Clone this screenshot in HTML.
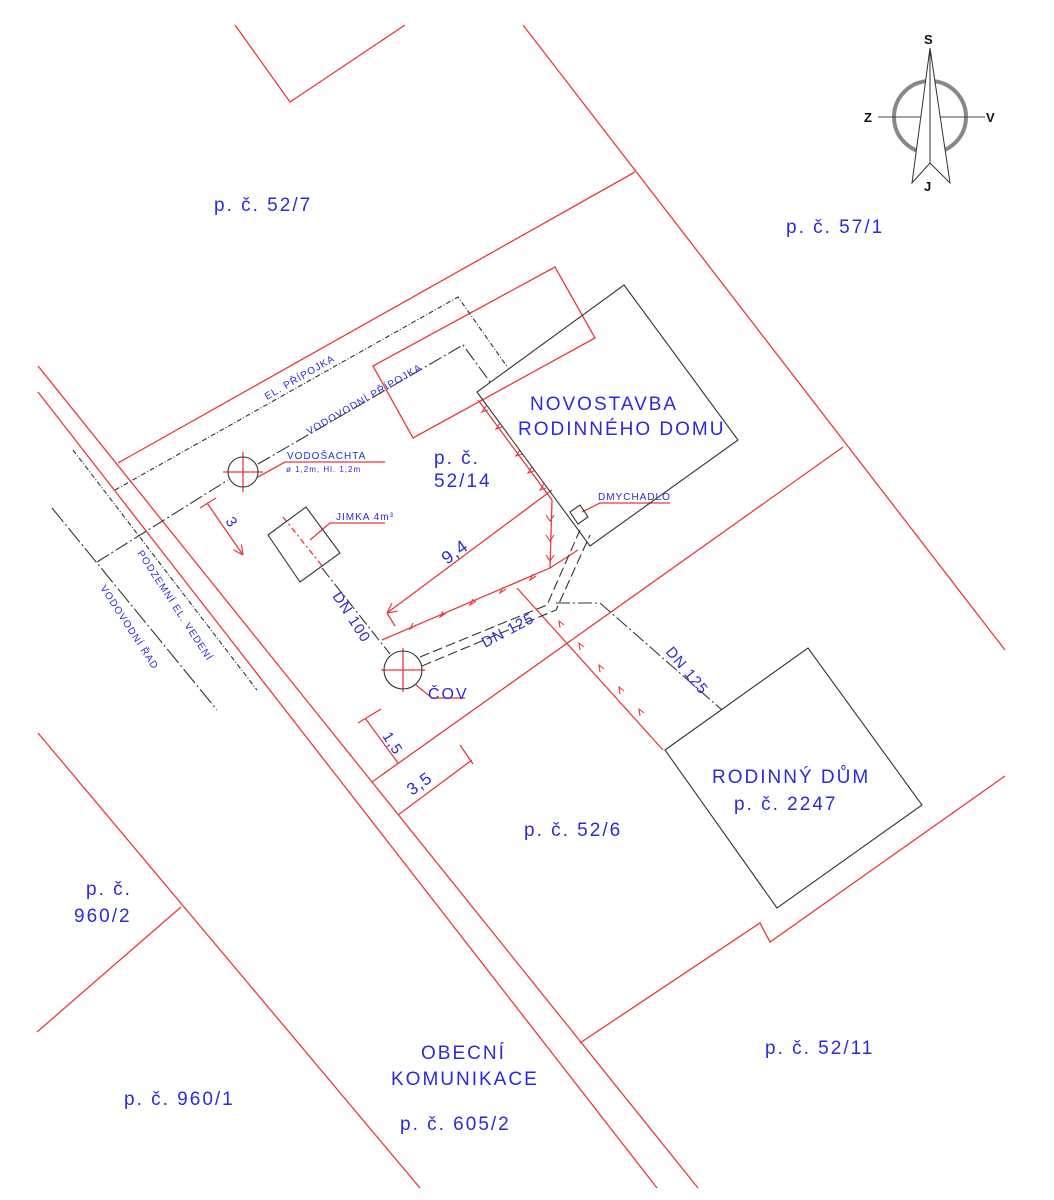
<!DOCTYPE html>
<html><head><meta charset="utf-8"><style>
html,body{margin:0;padding:0;background:#fff;}
svg{display:block;}
text{font-family:"Liberation Sans",sans-serif;fill:#2a2ae0;}
</style></head><body>
<svg width="1054" height="1200" viewBox="0 0 1054 1200" xmlns="http://www.w3.org/2000/svg">
<defs>
<marker id="ar" viewBox="0 0 10 10" refX="10" refY="5" markerWidth="10" markerHeight="10" orient="auto" markerUnits="userSpaceOnUse"><path d="M0,0 L10,5 L0,10" fill="none" stroke="#e83a3a" stroke-width="1.2"/></marker>
</defs>
<g fill="none" stroke="#e83a3a" stroke-width="1.3">
<polyline points="235,25 290,102 405,25"/>
<line x1="523" y1="25" x2="1005" y2="650"/>
<line x1="118" y1="463" x2="635" y2="172"/>
<line x1="38" y1="366" x2="698" y2="1188"/>
<line x1="38" y1="392" x2="657" y2="1188"/>
<line x1="38" y1="733" x2="420" y2="1188"/>
<line x1="181" y1="907" x2="37" y2="1032"/>
<line x1="372" y1="782" x2="843" y2="447"/>
<polyline points="580,1043 760,923 770,942 1005,776"/>
<polygon points="373,366 555,267 595,338 413,438"/>
<line x1="207" y1="503" x2="243" y2="555" marker-end="url(#ar)"/>
<line x1="200" y1="508" x2="216" y2="498"/>
<line x1="365" y1="718" x2="398" y2="763"/>
<line x1="358" y1="723" x2="381" y2="709"/>
<line x1="398" y1="815" x2="472" y2="760"/>
<line x1="460" y1="745" x2="473" y2="764"/>
<line x1="552" y1="490" x2="387" y2="613" marker-end="url(#ar)"/>
<line x1="387" y1="613" x2="395" y2="626"/>
<polyline points="258,477 285,462 385,462"/>
<polyline points="310,540 330,523 385,523"/>
<polyline points="416,685 432,698 465,698"/>
<polyline points="582,512 600,503 670,503"/>
<polyline points="478,400 552,500 550,568 382,640"/>
<polyline points="578,550 550,568"/>
<line x1="517" y1="588" x2="663" y2="750"/>
<line x1="223" y1="472" x2="263" y2="472"/><line x1="243" y1="452" x2="243" y2="492"/>
<line x1="381" y1="670" x2="425" y2="670"/><line x1="403" y1="648" x2="403" y2="692"/>
<line x1="283" y1="517" x2="323" y2="567" stroke-dasharray="6,3,2,3"/>
</g>
<g fill="none" stroke="#e83a3a" stroke-width="1.1">
<path d="M520,450 l-4,6 l6,-2 M532,467 l-4,6 l6,-2 M544,484 l-4,6 l6,-2 M500,423 l-4,6 l6,-2 M486,406 l-4,6 l6,-2"/>
<path d="M546,515 l4,6 l4,-6 M546,535 l4,6 l4,-6 M546,555 l4,6 l4,-6"/>
<path d="M536,576 l-6,4 l3,-6 M506,589 l-6,4 l3,-6 M476,601 l-6,4 l3,-6 M446,613 l-6,4 l3,-6 M416,625 l-6,4 l3,-6"/>
<path d="M580,650 l-1,-7 l5,4 M600,672 l-1,-7 l5,4 M620,694 l-1,-7 l5,4 M640,716 l-1,-7 l5,4 M560,628 l-1,-7 l5,4"/>
</g>
<g fill="none" stroke="#333" stroke-width="1.1">
<polygon points="624,285 738,440 590,546 477,392"/>
<polygon points="665,750 808,648 922,805 777,908"/>
<polygon points="268,535 306,507 340,553 300,582"/>
<polygon points="570,512 580,505 588,517 578,524"/>
<circle cx="243" cy="472" r="15"/>
<circle cx="403" cy="670" r="19"/>
<polyline points="73,450 257,690" stroke-dasharray="5,2,1,2"/>
<polyline points="115,490 458,297 508,368" stroke-dasharray="5,2,1,2"/>
<line x1="52" y1="508" x2="217" y2="710" stroke-dasharray="18,3,2,3"/>
<polyline points="97,562 228,480" stroke-dasharray="14,3,2,3"/>
<polyline points="258,464 463,345 490,382" stroke-dasharray="14,3,2,3"/>
<line x1="322" y1="568" x2="390" y2="654" stroke-dasharray="12,3,2,3"/>
<polyline points="420,657 547,605 580,530" stroke-dasharray="10,4"/>
<polyline points="422,666 556,610 590,535" stroke-dasharray="10,4"/>
<polyline points="556,603 600,603 722,710" stroke-dasharray="14,3,2,3"/>
</g>
<circle cx="930" cy="117" r="36" fill="none" stroke="#888" stroke-width="4"/>
<line x1="878" y1="117" x2="985" y2="117" stroke="#444" stroke-width="1"/>
<polygon points="930,48 950,183 930,163 912,183" fill="#fff" stroke="#333" stroke-width="1"/>
<line x1="930" y1="50" x2="930" y2="163" stroke="#333" stroke-width="1"/>
<g style="font-weight:bold;font-size:13px">
<text x="924" y="44" style="fill:#111">S</text>
<text x="864" y="122" style="fill:#111">Z</text>
<text x="986" y="122" style="fill:#111">V</text>
<text x="924" y="191" style="fill:#111">J</text>
</g>
<g style="font-size:19px;letter-spacing:2px">
<text x="214" y="211">p. č. 52/7</text>
<text x="786" y="233">p. č. 57/1</text>
<text x="434" y="464">p. č.</text>
<text x="434" y="487">52/14</text>
<text x="530" y="410">NOVOSTAVBA</text>
<text x="518" y="435">RODINNÉHO DOMU</text>
<text x="712" y="783">RODINNÝ DŮM</text>
<text x="734" y="810">p. č. 2247</text>
<text x="524" y="836">p. č. 52/6</text>
<text x="86" y="895">p. č.</text>
<text x="74" y="922">960/2</text>
<text x="421" y="1059">OBECNÍ</text>
<text x="391" y="1085">KOMUNIKACE</text>
<text x="400" y="1130">p. č. 605/2</text>
<text x="124" y="1105">p. č. 960/1</text>
<text x="765" y="1054">p. č. 52/11</text>
<text x="428" y="699" style="font-size:16px">ČOV</text>
</g>
<g style="font-size:10px;letter-spacing:1px">
<text x="287" y="459">VODOŠACHTA</text>
<text x="286" y="472" style="font-size:8px">ø 1,2m, Hl. 1,2m</text>
<text x="336" y="520">JIMKA 4m³</text>
<text x="598" y="500">DMYCHADLO</text>
<text transform="translate(267,400) rotate(-30)">EL. PŘÍPOJKA</text>
<text transform="translate(309,435) rotate(-30)">VODOVODNÍ PŘÍPOJKA</text>
<text transform="translate(137,553) rotate(57)">PODZEMNÍ EL. VEDENÍ</text>
<text transform="translate(100,588) rotate(57)">VODOVODNÍ ŘAD</text>
</g>
<g style="font-size:15px;letter-spacing:1px">
<text transform="translate(332,596) rotate(57)">DN 100</text>
<text transform="translate(485,648) rotate(-28)">DN 125</text>
<text transform="translate(665,652) rotate(50)">DN 125</text>
<text transform="translate(225,521) rotate(57)">3</text>
<text transform="translate(447,565) rotate(-36)" style="font-size:18px">9,4</text>
<text transform="translate(382,736) rotate(57)">1,5</text>
<text transform="translate(412,796) rotate(-36)" style="font-size:17px">3,5</text>
</g>
</svg>
</body></html>
